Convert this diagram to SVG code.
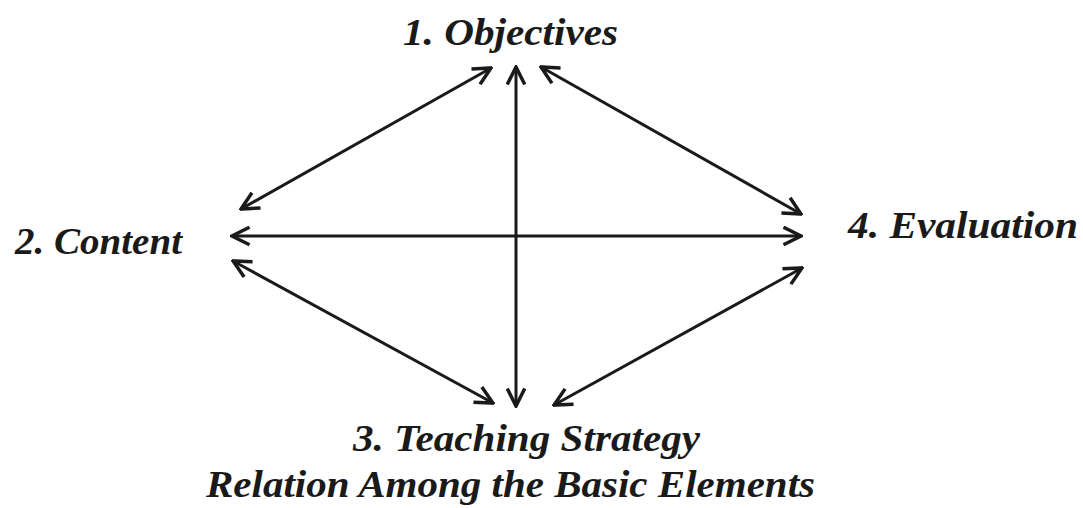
<svg xmlns="http://www.w3.org/2000/svg" width="1083" height="508" viewBox="0 0 1083 508">
<style>
.lbl{font-family:"Liberation Serif","DejaVu Serif",serif;font-weight:bold;font-style:italic;fill:#1a1a1a}
.c{stroke:#1a1a1a;stroke-width:3;fill:none;marker-start:url(#ah);marker-end:url(#ah)}
</style>
<defs>
<marker id="ah" viewBox="0 0 12 12" refX="11" refY="6" markerWidth="7" markerHeight="7" markerUnits="strokeWidth" orient="auto-start-reverse">
<path d="M1,1 L11,6 L1,11" fill="none" stroke="#1a1a1a" stroke-width="2"/>
</marker>
</defs>
<rect width="1083" height="508" fill="#ffffff"/>
<g id="n1"><text class="lbl" x="403" y="45" font-size="38" textLength="215" lengthAdjust="spacingAndGlyphs">1. Objectives</text></g>
<g id="n2"><text class="lbl" x="15" y="254" font-size="38" textLength="167" lengthAdjust="spacingAndGlyphs">2. Content</text></g>
<g id="n3"><text class="lbl" x="353" y="451" font-size="38" textLength="347" lengthAdjust="spacingAndGlyphs">3. Teaching Strategy</text></g>
<g id="n4"><text class="lbl" x="848" y="238" font-size="37" textLength="230" lengthAdjust="spacingAndGlyphs">4. Evaluation</text></g>
<g id="caption"><text class="lbl" x="206" y="497" font-size="37" textLength="609" lengthAdjust="spacingAndGlyphs">Relation Among the Basic Elements</text></g>
<g id="connectors">
<line class="c" x1="516" y1="67" x2="516" y2="406"/>
<line class="c" x1="232" y1="236" x2="801" y2="236"/>
<line class="c" x1="241" y1="209" x2="491" y2="68"/>
<line class="c" x1="541" y1="67" x2="801" y2="214"/>
<line class="c" x1="233" y1="261" x2="493" y2="403"/>
<line class="c" x1="554" y1="405" x2="802" y2="268"/>
</g>
</svg>
